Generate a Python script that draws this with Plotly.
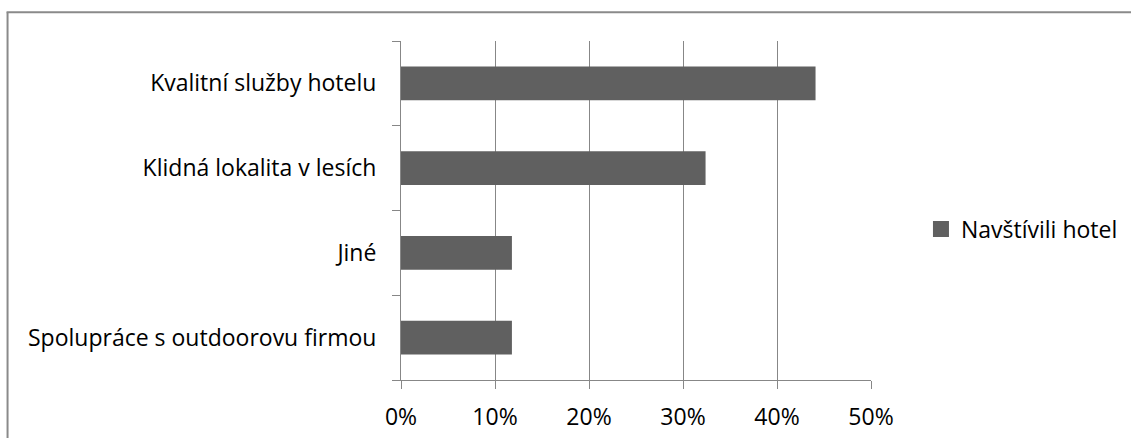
import plotly.graph_objects as go

# Reasons for choosing the hotel (share of respondents)
categories = [
    "Spolupráce s outdoorovu firmou",
    "Jiné",
    "Klidná lokalita v lesích",
    "Kvalitní služby hotelu",
]
values = [0.118, 0.118, 0.324, 0.441]
series_name = "Navštívili hotel"
tick_vals = [0, 0.1, 0.2, 0.3, 0.4, 0.5]
tick_text = ["0%", "10%", "20%", "30%", "40%", "50%"]

W, H = 1131, 438
L, R, T, B = 400.7, 871.0, 40.7, 380.0
GRID = "#878787"
BAR = "#606060"
FONT = dict(family="Open Sans, Liberation Sans, sans-serif", size=23, color="#000000")

fig = go.Figure()
fig.add_trace(go.Bar(
    y=categories, x=values, orientation="h",
    marker=dict(color=BAR, line=dict(width=0)),
    width=0.4, showlegend=False,
))
# legend entry with a larger square swatch
fig.add_trace(go.Scatter(
    x=[None], y=[None], mode="markers", name=series_name,
    marker=dict(symbol="square", size=16, color=BAR),
))


def px_x(px):
    return (px - L) / (R - L)


def px_y(py):
    return (B - py) / (B - T)


# outer frame of the chart area (top and left edges)
fig.add_shape(type="line", xref="paper", yref="paper",
              x0=px_x(7), y0=px_y(H + 5), x1=px_x(7), y1=px_y(12),
              line=dict(color="#8a8a8a", width=2))
fig.add_shape(type="line", xref="paper", yref="paper",
              x0=px_x(6), y0=px_y(12), x1=px_x(W + 5), y1=px_y(12),
              line=dict(color="#8a8a8a", width=2))

fig.update_layout(
    width=W, height=H,
    margin=dict(l=L, r=W - R, t=T, b=H - B, pad=0, autoexpand=False),
    paper_bgcolor="white", plot_bgcolor="white",
    font=FONT,
    showlegend=True,
    legend=dict(x=px_x(921), y=px_y(229), xanchor="left", yanchor="middle",
                font=FONT, bgcolor="rgba(0,0,0,0)", itemwidth=30),
    xaxis=dict(
        range=[0, 0.5], tickvals=tick_vals, ticktext=tick_text,
        showgrid=True, gridcolor=GRID, gridwidth=1,
        showline=True, linecolor=GRID, linewidth=1,
        ticks="outside", ticklen=8, tickcolor=GRID, tickwidth=1,
        zeroline=False, fixedrange=True, ticklabelstandoff=8,
        automargin=False,
    ),
    yaxis=dict(
        type="category", categoryorder="array", categoryarray=categories,
        showgrid=False, showline=True, linecolor=GRID, linewidth=1,
        ticks="outside", ticklen=8, tickcolor=GRID, tickwidth=1,
        tickson="boundaries", zeroline=False, fixedrange=True,
        ticklabelstandoff=19, automargin=False,
    ),
)

fig.write_html("out.html")
